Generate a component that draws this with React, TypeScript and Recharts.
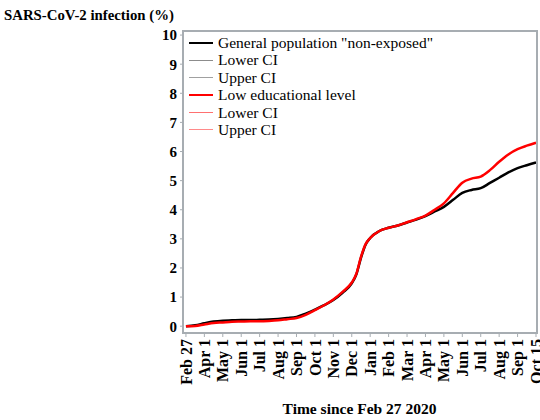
import { LineChart, Line, XAxis, YAxis, Label } from "recharts";

const FONT = '"Liberation Serif", "Times New Roman", serif';

// month index since Feb 27 2020 (ticks are evenly spaced in the original)
const monthIdx = [
  0, 0.5, 1, 1.5, 2, 2.5, 3, 3.5, 4, 4.5, 5, 5.5, 6, 6.5, 7, 7.5, 8, 8.5, 9, 9.25, 9.5, 9.75,
  10, 10.5, 11, 11.5, 12, 12.5, 13, 13.5, 14, 14.5, 15, 15.5, 16, 16.5, 17, 17.5, 18, 18.5, 19,
];

const generalPop = [
  0.0, 0.03, 0.1, 0.16, 0.19, 0.2, 0.21, 0.21, 0.22, 0.23, 0.25, 0.28, 0.32, 0.43, 0.57, 0.72, 0.9, 1.15, 1.47, 1.78, 2.35, 2.8,
  3.03, 3.27, 3.38, 3.46, 3.56, 3.66, 3.78, 3.94, 4.1, 4.34, 4.58, 4.68, 4.74, 4.92, 5.1, 5.28, 5.43, 5.53, 5.62,
];

const lowEducation = [
  0.0, 0.01, 0.06, 0.11, 0.13, 0.15, 0.16, 0.17, 0.17, 0.18, 0.2, 0.24, 0.28, 0.39, 0.55, 0.72, 0.92, 1.18, 1.5, 1.8, 2.38, 2.82,
  3.03, 3.27, 3.38, 3.46, 3.57, 3.68, 3.8, 4.0, 4.22, 4.58, 4.93, 5.07, 5.14, 5.36, 5.65, 5.9, 6.08, 6.2, 6.3,
];

const monthTicks = [0, 1, 2, 3, 4, 5, 6, 7, 8, 9, 10, 11, 12, 13, 14, 15, 16, 17, 18, 19];
const monthLabels = [
  "Feb 27", "Apr 1", "May 1", "Jun 1", "Jul 1", "Aug 1", "Sep 1", "Oct 1", "Nov 1", "Dec 1",
  "Jan 1", "Feb 1", "Mar 1", "Apr 1", "May 1", "Jun 1", "Jul 1", "Aug 1", "Sep 1", "Oct 15",
];

const yTicks = [0, 1, 2, 3, 4, 5, 6, 7, 8, 9, 10];

const legendItems = [
  { label: 'General population "non-exposed"', color: "#000000", width: 2.5 },
  { label: "Lower CI", color: "#8c8c8c", width: 1.5 },
  { label: "Upper CI", color: "#a0a0a0", width: 1.5 },
  { label: "Low educational level", color: "#ff0000", width: 2.5 },
  { label: "Lower CI", color: "#ff7070", width: 1.5 },
  { label: "Upper CI", color: "#ff8a8a", width: 1.5 },
];

const data = monthIdx.map((m, i) => ({
  m,
  general: generalPop[i],
  low: lowEducation[i],
}));

const MonthTick = (props: any) => {
  const { x, y, payload } = props;
  return (
    <text
      transform={`translate(${x},${y}) rotate(-90)`}
      textAnchor="end"
      dy="0.35em"
      fontFamily={FONT}
      fontWeight="bold"
      fontSize={16}
      fill="#000"
    >
      {monthLabels[payload.value]}
    </text>
  );
};

const LegendBox = () => (
  <div
    style={{
      position: "absolute",
      left: 189,
      top: 34,
      fontFamily: FONT,
      fontSize: 15.5,
      lineHeight: "17.4px",
      color: "#000",
      whiteSpace: "nowrap",
    }}
  >
    {legendItems.map((it, i) => (
      <div key={i} style={{ display: "flex", alignItems: "center" }}>
        <span
          style={{
            display: "inline-block",
            width: 24,
            height: 0,
            borderTop: `${it.width}px solid ${it.color}`,
            marginRight: 5,
          }}
        />
        <span>{it.label}</span>
      </div>
    ))}
  </div>
);

export default function App() {
  return (
    <div style={{ position: "absolute", left: 0, top: 0, width: 540, height: 420, background: "#fff" }}>
      <LineChart width={540} height={420} data={data} margin={{ top: 31, right: 4, bottom: 0, left: 123 }}>
        <XAxis
          dataKey="m"
          type="number"
          domain={[-0.16, 19]}
          ticks={monthTicks}
          interval={0}
          height={88}
          axisLine={false}
          tickLine={{ stroke: "#a7adb2" }}
          tickSize={5}
          tick={<MonthTick />}
        >
          <Label
            value="Time since Feb 27 2020"
            position="insideBottom"
            offset={6}
            style={{ fontFamily: FONT, fontWeight: "bold", fontSize: 15.5, fill: "#000" }}
          />
        </XAxis>
        <YAxis
          type="number"
          domain={[-0.2, 10.14]}
          ticks={yTicks}
          allowDataOverflow
          width={60}
          axisLine={false}
          tickLine={{ stroke: "#a7adb2" }}
          tickSize={3}
          tickMargin={3}
          tick={{ fontFamily: FONT, fontWeight: "bold", fontSize: 15, fill: "#000" }}
        >
          <Label
            content={() => (
              <text x={4} y={20} fontFamily={FONT} fontWeight="bold" fontSize={14.8} fill="#000">
                SARS-CoV-2 infection (%)
              </text>
            )}
          />
        </YAxis>
        <Line
          type="monotone"
          dataKey="general"
          stroke="#000000"
          strokeWidth={2.5}
          dot={false}
          isAnimationActive={false}
        />
        <Line
          type="monotone"
          dataKey="low"
          stroke="#ff0000"
          strokeWidth={2.5}
          dot={false}
          isAnimationActive={false}
        />
      </LineChart>
      <div
        style={{
          position: "absolute",
          left: 182,
          top: 30,
          width: 352,
          height: 300,
          border: "2px solid #a7adb2",
          pointerEvents: "none",
        }}
      />
      <LegendBox />
    </div>
  );
}
